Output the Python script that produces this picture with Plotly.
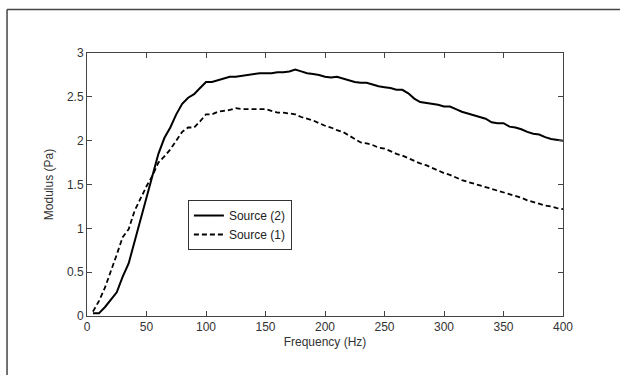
import plotly.graph_objects as go

freq = [5, 10, 15, 20, 25, 30, 35, 40, 45, 50, 55, 60, 65, 70, 75, 80, 85, 90, 95, 100,
        105, 110, 115, 120, 125, 130, 135, 140, 145, 150, 155, 160, 165, 170, 175, 180,
        185, 190, 195, 200, 205, 210, 215, 220, 225, 230, 235, 240, 245, 250, 255, 260,
        265, 270, 275, 280, 285, 290, 295, 300, 305, 310, 315, 320, 325, 330, 335, 340,
        345, 350, 355, 360, 365, 370, 375, 380, 385, 390, 395, 400]

source2 = [0.03, 0.03, 0.10, 0.18, 0.27, 0.45, 0.60, 0.85, 1.10, 1.35, 1.60, 1.85, 2.03,
           2.15, 2.30, 2.42, 2.49, 2.53, 2.60, 2.67, 2.67, 2.69, 2.71, 2.73, 2.73, 2.74,
           2.75, 2.76, 2.77, 2.77, 2.77, 2.78, 2.78, 2.79, 2.81, 2.79, 2.77, 2.76, 2.75,
           2.73, 2.72, 2.73, 2.71, 2.69, 2.67, 2.66, 2.66, 2.64, 2.62, 2.61, 2.60, 2.58,
           2.58, 2.54, 2.48, 2.44, 2.43, 2.42, 2.41, 2.39, 2.39, 2.36, 2.33, 2.31, 2.29,
           2.27, 2.25, 2.21, 2.20, 2.20, 2.16, 2.15, 2.13, 2.10, 2.08, 2.07, 2.04, 2.02,
           2.01, 2.00]

source1 = [0.05, 0.17, 0.32, 0.50, 0.70, 0.90, 0.99, 1.20, 1.35, 1.48, 1.60, 1.75, 1.82,
           1.90, 2.00, 2.10, 2.15, 2.15, 2.22, 2.30, 2.30, 2.33, 2.34, 2.35, 2.37, 2.36,
           2.36, 2.36, 2.36, 2.36, 2.34, 2.32, 2.32, 2.31, 2.30, 2.27, 2.25, 2.23, 2.20,
           2.17, 2.15, 2.12, 2.10, 2.06, 2.02, 1.98, 1.97, 1.95, 1.92, 1.91, 1.88, 1.85,
           1.83, 1.80, 1.77, 1.74, 1.72, 1.69, 1.66, 1.63, 1.61, 1.58, 1.55, 1.53, 1.51,
           1.49, 1.47, 1.45, 1.43, 1.41, 1.39, 1.37, 1.35, 1.32, 1.30, 1.28, 1.26, 1.25,
           1.23, 1.22]

x_ticks = [0, 50, 100, 150, 200, 250, 300, 350, 400]
y_ticks = [0, 0.5, 1, 1.5, 2, 2.5, 3]
y_tick_text = ["0", "0.5", "1", "1.5", "2", "2.5", "3"]

FONT = "Liberation Sans, Arial"

fig = go.Figure()
fig.add_trace(go.Scatter(x=freq, y=source2, mode="lines", name="Source (2)",
                         line=dict(color="black", width=2)))
fig.add_trace(go.Scatter(x=freq, y=source1, mode="lines", name="Source (1)",
                         line=dict(color="black", width=1.8, dash="5px,3px")))

axis_common = dict(showgrid=False, zeroline=False, showline=True, linecolor="#444",
                   linewidth=1, mirror="ticks", ticks="inside", ticklen=5,
                   tickcolor="#444", tickfont=dict(family=FONT, size=12, color="#333"))

fig.update_xaxes(range=[0, 400], tickvals=x_ticks,
                 title=dict(text="Frequency (Hz)", font=dict(family=FONT, size=12, color="#333"), standoff=4),
                 **axis_common)
fig.update_yaxes(range=[0, 3], tickvals=y_ticks, ticktext=y_tick_text,
                 title=dict(text="Modulus (Pa)", font=dict(family=FONT, size=12, color="#333"), standoff=10),
                 **axis_common)

# outer figure frame (top and left edges)
fig.add_shape(type="line", xref="paper", yref="paper", x0=-0.168, x1=-0.168, y0=-0.3, y1=1.1654,
              line=dict(color="#444", width=1.5))
fig.add_shape(type="line", xref="paper", yref="paper", x0=-0.168, x1=1.2, y0=1.1654, y1=1.1654,
              line=dict(color="#444", width=1.5))

fig.update_layout(
    width=620, height=375,
    margin=dict(l=87, r=57, t=53, b=59),
    paper_bgcolor="white", plot_bgcolor="white",
    showlegend=True,
    legend=dict(x=0.212, y=0.441, xanchor="left", yanchor="top",
                bordercolor="#333", borderwidth=1, bgcolor="white",
                font=dict(family=FONT, size=12, color="#222"),
                tracegroupgap=0),
)

fig.write_html("out.html")
